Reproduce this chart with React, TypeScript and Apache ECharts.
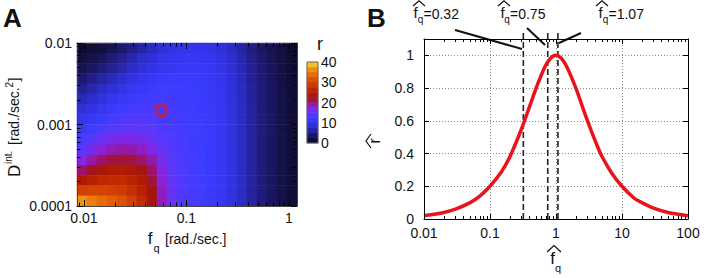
import React, { useEffect, useRef } from 'react';
import * as echarts from 'echarts';

// ---------- Panel A data ----------
const FQ_RANGE = [0.00855, 1.2]; // f_q [rad./sec.] extent of the map
const D_RANGE = [0.0001, 0.01]; // D^int [rad./sec.^2] extent of the map
const R_RANGE = [0, 40];
// r values, rows from top (D = 0.01) to bottom (D = 0.0001),
// columns from left (f_q = 0.0086) to right (f_q = 1.2), equal log steps
const R_MATRIX = [
  [1.0, 1.4, 2.0, 2.8, 3.8, 4.9, 6.1, 7.3, 8.4, 9.3, 9.9, 10.1, 10.0, 9.6, 8.8, 7.5, 6.0, 4.7, 3.6, 2.7, 1.9, 1.1],
  [1.9, 2.5, 3.3, 4.3, 5.4, 6.6, 7.8, 8.9, 9.9, 10.6, 11.0, 11.1, 10.9, 10.4, 9.5, 8.1, 6.6, 5.2, 4.0, 3.0, 2.1, 1.2],
  [2.8, 3.5, 4.4, 5.4, 6.5, 7.6, 8.7, 9.7, 10.6, 11.2, 11.5, 11.5, 11.3, 10.8, 9.8, 8.4, 6.8, 5.4, 4.2, 3.1, 2.2, 1.3],
  [4.0, 5.0, 6.0, 7.1, 8.2, 9.3, 10.3, 11.2, 11.9, 12.2, 12.3, 12.1, 11.9, 11.3, 10.3, 8.8, 7.1, 5.6, 4.3, 3.2, 2.3, 1.3],
  [5.5, 6.5, 7.6, 8.7, 9.8, 10.8, 11.7, 12.3, 12.7, 12.8, 12.7, 12.4, 12.1, 11.6, 10.6, 9.0, 7.3, 5.8, 4.4, 3.3, 2.3, 1.4],
  [7.0, 8.1, 9.2, 10.3, 11.3, 12.1, 12.7, 13.0, 13.1, 13.0, 12.8, 12.5, 12.2, 11.7, 10.7, 9.2, 7.4, 5.8, 4.5, 3.4, 2.4, 1.4],
  [8.6, 9.7, 10.8, 11.8, 12.6, 13.2, 13.5, 13.5, 13.3, 13.1, 12.9, 12.6, 12.3, 11.8, 10.8, 9.3, 7.5, 5.9, 4.5, 3.4, 2.4, 1.4],
  [10.2, 11.3, 12.3, 13.2, 13.8, 14.2, 14.2, 14.0, 13.7, 13.3, 13.0, 12.7, 12.4, 11.9, 10.9, 9.3, 7.5, 5.9, 4.5, 3.4, 2.4, 1.4],
  [11.8, 12.9, 13.9, 14.7, 15.2, 15.3, 15.2, 14.8, 14.2, 13.6, 13.2, 12.8, 12.5, 11.9, 10.9, 9.3, 7.5, 5.9, 4.5, 3.4, 2.4, 1.4],
  [13.4, 14.7, 15.8, 16.5, 17.0, 17.0, 16.6, 15.8, 14.8, 14.0, 13.4, 12.9, 12.5, 11.9, 10.9, 9.3, 7.5, 5.9, 4.5, 3.4, 2.4, 1.4],
  [15.0, 16.5, 17.8, 18.6, 19.0, 18.9, 18.2, 17.0, 15.6, 14.4, 13.6, 13.0, 12.6, 11.9, 10.9, 9.3, 7.5, 5.9, 4.5, 3.4, 2.4, 1.4],
  [17.2, 19.0, 20.4, 21.3, 21.6, 21.3, 20.3, 18.8, 16.5, 14.9, 13.8, 13.1, 12.6, 11.9, 10.9, 9.3, 7.5, 5.9, 4.5, 3.4, 2.4, 1.4],
  [20.3, 22.1, 23.5, 24.3, 24.5, 24.0, 22.8, 20.4, 17.4, 15.2, 14.0, 13.2, 12.7, 11.9, 10.9, 9.3, 7.5, 5.9, 4.5, 3.4, 2.4, 1.4],
  [24.0, 25.6, 26.6, 27.0, 26.8, 25.9, 24.3, 21.6, 17.8, 15.5, 14.1, 13.3, 12.7, 12.0, 10.9, 9.3, 7.5, 5.9, 4.5, 3.4, 2.4, 1.4],
  [29.5, 30.0, 30.0, 29.6, 28.9, 27.7, 25.6, 22.4, 18.2, 15.7, 14.2, 13.3, 12.8, 12.0, 10.9, 9.3, 7.5, 5.9, 4.5, 3.4, 2.4, 1.4],
  [36.5, 35.2, 33.8, 32.6, 31.2, 29.4, 26.9, 23.1, 18.4, 15.9, 14.3, 13.4, 12.8, 12.0, 11.0, 9.3, 7.5, 5.9, 4.5, 3.4, 2.4, 1.4],
];
const PICKED_POINT = [0.057, 0.0015];
const COLORBAR_LEVELS = [1.25, 3.75, 6.25, 8.75, 11.25, 13.75, 16.25, 18.75, 21.25, 23.75, 26.25, 28.75, 31.25, 33.75, 36.25, 38.75];
const R_COLORS = [
  '#08061c', '#16124a', '#221e88', '#2c2cc4', '#3434ea', '#3c3cff', '#5a38fa', '#8a22e0', '#9c1478',
  '#a4140c', '#b41e04', '#c42e02', '#d44404', '#e25c06', '#ec7a0c', '#f0a41a', '#f0e030',
];

// ---------- Panel B data ----------
const FHAT = [0.01, 0.02, 0.03, 0.05, 0.07, 0.1, 0.15, 0.2, 0.3, 0.4, 0.5, 0.6, 0.7, 0.8, 0.9, 1.0, 1.1, 1.25, 1.5, 2, 2.5, 3, 4, 5, 7, 10, 15, 20, 30, 50, 70, 100];
const RHAT = [0.02, 0.04, 0.06, 0.1, 0.14, 0.2, 0.29, 0.38, 0.55, 0.69, 0.8, 0.88, 0.94, 0.975, 0.995, 1.0, 0.995, 0.975, 0.92, 0.8, 0.69, 0.6, 0.47, 0.38, 0.28, 0.2, 0.13, 0.1, 0.067, 0.04, 0.029, 0.02];
const CUTOFFS = [0.32, 0.75, 1.07];
const CUTOFF_TEXT = ['=0.32', '=0.75', '=1.07'];
const FHAT_RANGE = [0.01, 100];
const RHAT_RANGE = [0, 1.1];
const RHAT_STEP = 0.2;
const COLORBAR_STEP = 10;

const FONT = '"Liberation Sans", Arial, Helvetica, sans-serif';

function logTicks(lo: number, hi: number, minor: boolean) {
  const out: number[] = [];
  for (let d = Math.floor(lo) - 1; d <= Math.ceil(hi); d++) {
    if (minor) {
      for (let k = 2; k <= 9; k++) out.push(d + Math.log10(k));
    } else out.push(d);
  }
  return out.filter((v) => v >= lo - 1e-9 && v <= hi + 1e-9);
}

function tickAxis(gridIndex: number, position: string, lo: number, hi: number, values: number[], length: number, line: boolean, color: string) {
  return {
    type: 'value',
    gridIndex,
    position,
    min: lo,
    max: hi,
    axisLine: { show: line, onZero: false, lineStyle: { color, width: 1 } },
    axisLabel: { show: false },
    splitLine: { show: false },
    axisTick: { show: true, inside: true, length, customValues: values, lineStyle: { color: '#000', width: 1 } },
    z: 5,
  };
}

const fmtDecade = (v: number) => {
  const l = Math.log10(v);
  return Math.abs(l - Math.round(l)) < 1e-6 ? String(Number(v.toPrecision(1))) : '';
};

function txt(x: number, y: number, text: string, size: number, align = 'center', weight = 'normal', extra: any = {}) {
  return {
    type: 'text',
    x,
    y,
    silent: true,
    ...extra,
    style: { text, fontSize: size, fontFamily: FONT, fontWeight: weight, fill: '#111', align, verticalAlign: 'middle' },
  };
}
function hat(pts: number[][]) {
  return { type: 'polyline', silent: true, shape: { points: pts }, style: { stroke: '#111', fill: null, lineWidth: 1.2 } };
}
function seg(x1: number, y1: number, x2: number, y2: number) {
  return { type: 'line', silent: true, shape: { x1, y1, x2, y2 }, style: { stroke: '#111', lineWidth: 2 } };
}

export default function App() {
  const ref = useRef<HTMLDivElement>(null);
  useEffect(() => {
    if (!ref.current) return;
    const chart = echarts.init(ref.current, null, { renderer: 'svg' });

    const nRows = R_MATRIX.length;
    const heatData: number[][] = [];
    R_MATRIX.forEach((row, ri) => {
      row.forEach((v, ci) => heatData.push([ci, nRows - 1 - ri, v]));
    });
    const cbData = COLORBAR_LEVELS.map((v, i) => [0, i, v]);

    const lx = [Math.log10(FQ_RANGE[0]), Math.log10(FQ_RANGE[1])];
    const ly = [Math.log10(D_RANGE[0]), Math.log10(D_RANGE[1])];
    const rx = [Math.log10(FHAT_RANGE[0]), Math.log10(FHAT_RANGE[1])];
    const rMajorY: number[] = [];
    for (let v = RHAT_RANGE[0]; v <= 1.0001; v += RHAT_STEP) rMajorY.push(Number(v.toFixed(1)));

    const gridA = { left: 77, top: 43, width: 220, height: 163 };
    const gridB = { left: 424, top: 39, width: 264, height: 180 };
    const frameA = '#444';

    const option: any = {
      animation: false,
      backgroundColor: '#fff',
      textStyle: { fontFamily: FONT },
      grid: [
        { ...gridA },
        { ...gridA },
        { left: 307, top: 62, width: 11, height: 81, show: true, borderColor: '#666', borderWidth: 1, z: 4 },
        { ...gridB },
      ],
      visualMap: {
        type: 'continuous',
        show: false,
        min: R_RANGE[0],
        max: R_RANGE[1],
        seriesIndex: [0, 1],
        inRange: { color: R_COLORS },
      },
      xAxis: [
        { type: 'category', gridIndex: 0, show: false, data: R_MATRIX[0].map((_, i) => String(i)) },
        {
          type: 'log', gridIndex: 1, logBase: 10, min: FQ_RANGE[0], max: FQ_RANGE[1], position: 'bottom',
          axisLine: { show: false, onZero: false }, axisTick: { show: false }, splitLine: { show: false },
          axisLabel: { formatter: fmtDecade, fontSize: 14, color: '#111', margin: 5, fontFamily: FONT, showMinLabel: true, showMaxLabel: true },
        },
        tickAxis(1, 'bottom', lx[0], lx[1], logTicks(lx[0], lx[1], false), 6, true, frameA),
        tickAxis(1, 'bottom', lx[0], lx[1], logTicks(lx[0], lx[1], true), 3.5, false, frameA),
        tickAxis(1, 'top', lx[0], lx[1], logTicks(lx[0], lx[1], false), 6, true, frameA),
        tickAxis(1, 'top', lx[0], lx[1], logTicks(lx[0], lx[1], true), 3.5, false, frameA),
        { type: 'category', gridIndex: 2, show: false, data: ['0'] },
        {
          type: 'log', gridIndex: 3, logBase: 10, min: FHAT_RANGE[0], max: FHAT_RANGE[1], position: 'bottom',
          axisLine: { show: false, onZero: false }, axisTick: { show: false },
          splitLine: { show: true, lineStyle: { type: [1, 2], color: '#888', width: 1 } },
          axisLabel: { formatter: fmtDecade, fontSize: 14, color: '#111', margin: 7, fontFamily: FONT },
        },
        tickAxis(3, 'bottom', rx[0], rx[1], logTicks(rx[0], rx[1], false), 5, true, '#000'),
        tickAxis(3, 'bottom', rx[0], rx[1], logTicks(rx[0], rx[1], true), 3, false, '#000'),
        tickAxis(3, 'top', rx[0], rx[1], logTicks(rx[0], rx[1], false), 5, true, '#000'),
        tickAxis(3, 'top', rx[0], rx[1], logTicks(rx[0], rx[1], true), 3, false, '#000'),
      ],
      yAxis: [
        { type: 'category', gridIndex: 0, show: false, data: R_MATRIX.map((_, i) => String(i)) },
        {
          type: 'log', gridIndex: 1, logBase: 10, min: D_RANGE[0], max: D_RANGE[1], position: 'left',
          axisLine: { show: false, onZero: false }, axisTick: { show: false }, splitLine: { show: false },
          axisLabel: { formatter: fmtDecade, fontSize: 14, color: '#111', margin: 5, fontFamily: FONT },
        },
        tickAxis(1, 'left', ly[0], ly[1], logTicks(ly[0], ly[1], false), 6, true, frameA),
        tickAxis(1, 'left', ly[0], ly[1], logTicks(ly[0], ly[1], true), 3.5, false, frameA),
        tickAxis(1, 'right', ly[0], ly[1], logTicks(ly[0], ly[1], false), 6, true, frameA),
        tickAxis(1, 'right', ly[0], ly[1], logTicks(ly[0], ly[1], true), 3.5, false, frameA),
        { type: 'category', gridIndex: 2, show: false, position: 'left', data: COLORBAR_LEVELS.map((_, i) => String(i)) },
        {
          type: 'value', gridIndex: 2, position: 'right', min: R_RANGE[0], max: R_RANGE[1], interval: COLORBAR_STEP,
          axisLine: { show: false, onZero: false }, axisTick: { show: false }, splitLine: { show: false },
          axisLabel: { fontSize: 14, color: '#111', margin: 3, fontFamily: FONT },
        },
        {
          type: 'value', gridIndex: 3, position: 'left', min: RHAT_RANGE[0], max: RHAT_RANGE[1], interval: RHAT_STEP,
          axisLine: { show: false, onZero: false }, axisTick: { show: false },
          splitLine: { show: true, lineStyle: { type: [1, 2], color: '#888', width: 1 } },
          axisLabel: {
            fontSize: 14, color: '#111', margin: 10, fontFamily: FONT,
            formatter: (v: number) => (v > 1.05 ? '' : String(Number(v.toFixed(1)))),
          },
        },
        tickAxis(3, 'left', RHAT_RANGE[0], RHAT_RANGE[1], rMajorY, 5, true, '#000'),
        tickAxis(3, 'right', RHAT_RANGE[0], RHAT_RANGE[1], rMajorY, 5, true, '#000'),
      ],
      series: [
        {
          type: 'heatmap', xAxisIndex: 0, yAxisIndex: 0, data: heatData,
          itemStyle: { borderWidth: 0 }, emphasis: { disabled: true }, progressive: 0,
        },
        {
          type: 'heatmap', xAxisIndex: 6, yAxisIndex: 6, data: cbData,
          itemStyle: { borderWidth: 0 }, emphasis: { disabled: true },
        },
        {
          type: 'scatter', xAxisIndex: 1, yAxisIndex: 1, data: [PICKED_POINT],
          symbol: 'circle', symbolSize: 11, z: 6,
          itemStyle: { color: 'rgba(0,0,0,0)', borderColor: '#ee1111', borderWidth: 2.5 },
        },
        ...CUTOFFS.map((c) => ({
          type: 'line', xAxisIndex: 7, yAxisIndex: 8, clip: false, symbol: 'none', z: 3,
          data: [[c, 0], [c, 1.14]],
          lineStyle: { color: '#222', width: 1.6, type: [6, 3] },
        })),
        {
          type: 'line', xAxisIndex: 7, yAxisIndex: 8, symbol: 'none', smooth: 0.3, z: 4,
          data: FHAT.map((f, i) => [f, RHAT[i]]),
          lineStyle: { color: '#e8141c', width: 3.5 },
        },
      ],
      graphic: [
        txt(3, 18, 'A', 26, 'left', 'bold'),
        txt(367, 18, 'B', 26, 'left', 'bold'),
        // colorbar title
        txt(320, 44, 'r', 18),
        // panel A x title
        txt(150, 238, 'f', 17),
        txt(156.5, 248, 'q', 11),
        txt(165, 239, '[rad./sec.]', 14, 'left'),
        // panel A y title (rotated)
        {
          type: 'group', x: 14, y: 177, rotation: Math.PI / 2,
          children: [
            txt(0, 0, 'D', 17, 'left'),
            txt(13, -6, 'int.', 10, 'left'),
            txt(32, 0, '[rad./sec.', 14, 'left'),
            txt(89.6, -5, '2', 10, 'left'),
            txt(95.5, 0, ']', 14, 'left'),
          ],
        },
        // panel B cutoff labels
        hat([[413, 6], [419, 0.8], [425, 6]]), txt(415.5, 12, 'f', 15), txt(420.5, 19, 'q', 10), txt(423.5, 14, CUTOFF_TEXT[0], 14, 'left'),
        hat([[498, 6], [504, 0.8], [510, 6]]), txt(502.5, 12, 'f', 15), txt(507, 19, 'q', 10), txt(510, 14, CUTOFF_TEXT[1], 14, 'left'),
        hat([[596, 6], [602, 0.8], [608, 6]]), txt(600.5, 12, 'f', 15), txt(605.5, 19, 'q', 10), txt(608.5, 14, CUTOFF_TEXT[2], 14, 'left'),
        seg(455, 30, 522, 49),
        seg(527, 28, 545, 45),
        seg(581, 33, 559, 43),
        // panel B y title (rotated r-hat)
        txt(374, 141, 'r', 17, 'center', 'normal', { rotation: Math.PI / 2 }),
        hat([[371, 134], [366, 141], [371, 148]]),
        // panel B x title
        hat([[547, 252], [554, 245.5], [561, 252]]),
        txt(552.5, 258.5, 'f', 17),
        txt(558, 268, 'q', 11),
      ],
    };
    chart.setOption(option);
    return () => chart.dispose();
  }, []);
  return <div ref={ref} style={{ position: 'fixed', left: 0, top: 0, width: 708, height: 278 }} />;
}
